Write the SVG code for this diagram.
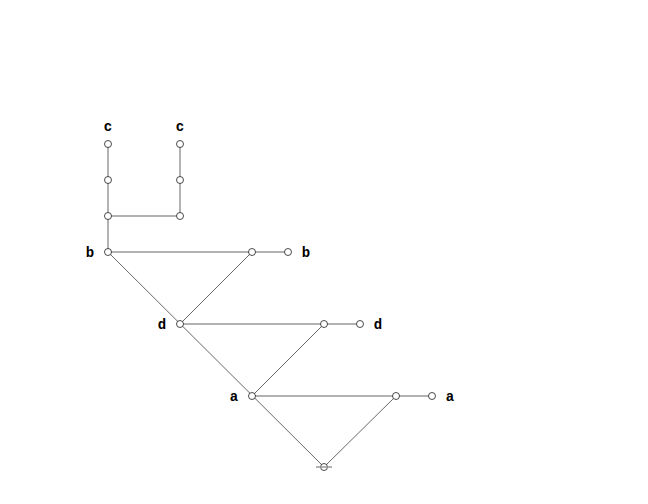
<svg xmlns="http://www.w3.org/2000/svg" width="648" height="504" viewBox="0 0 648 504">
<style>
.h{stroke:#999;stroke-width:1.5;fill:none}
.d{stroke:#000;stroke-width:0.6;fill:none}
.n{fill:#fff;stroke:#000;stroke-width:0.7}
</style>
<rect width="648" height="504" fill="#fff"/>
<g id="connectors">
<line class="h" x1="108" y1="144" x2="108" y2="252"/>
<line class="h" x1="180" y1="144" x2="180" y2="216"/>
<line class="h" x1="108" y1="216" x2="180" y2="216"/>
<line class="h" x1="108" y1="252" x2="288" y2="252"/>
<line class="h" x1="180" y1="324" x2="360" y2="324"/>
<line class="h" x1="252" y1="396" x2="432" y2="396"/>
<line class="d" x1="108" y1="252" x2="324" y2="467"/>
<line class="d" x1="252" y1="252" x2="180" y2="324"/>
<line class="d" x1="324" y1="324" x2="252" y2="396"/>
<line class="d" x1="396" y1="396" x2="324" y2="467"/>
</g>
<g font-family="Liberation Mono, monospace" font-weight="bold" font-size="14" text-anchor="middle" fill="#000">
<g id="n_c1"><circle class="n" cx="108" cy="144" r="3.5"/><text x="108" y="131">c</text></g>
<g id="n_c2"><circle class="n" cx="180" cy="144" r="3.5"/><text x="180" y="131">c</text></g>
<g id="n_1"><circle class="n" cx="108" cy="180" r="3.5"/></g>
<g id="n_2"><circle class="n" cx="180" cy="180" r="3.5"/></g>
<g id="n_3"><circle class="n" cx="108" cy="216" r="3.5"/></g>
<g id="n_4"><circle class="n" cx="180" cy="216" r="3.5"/></g>
<g id="n_b"><circle class="n" cx="108" cy="252" r="3.5"/><text x="90" y="257">b</text></g>
<g id="n_5"><circle class="n" cx="252" cy="252" r="3.5"/></g>
<g id="n_b2"><circle class="n" cx="288" cy="252" r="3.5"/><text x="306" y="257">b</text></g>
<g id="n_d"><circle class="n" cx="180" cy="324" r="3.5"/><text x="162" y="329">d</text></g>
<g id="n_6"><circle class="n" cx="324" cy="324" r="3.5"/></g>
<g id="n_d2"><circle class="n" cx="360" cy="324" r="3.5"/><text x="378" y="329">d</text></g>
<g id="n_a"><circle class="n" cx="252" cy="396" r="3.5"/><text x="234" y="401">a</text></g>
<g id="n_7"><circle class="n" cx="396" cy="396" r="3.5"/></g>
<g id="n_a2"><circle class="n" cx="432" cy="396" r="3.5"/><text x="450" y="401">a</text></g>
<g id="n_root"><circle class="n" cx="324" cy="467" r="3.5"/><line class="h" x1="316" y1="467" x2="332" y2="467"/></g>
</g>
</svg>
